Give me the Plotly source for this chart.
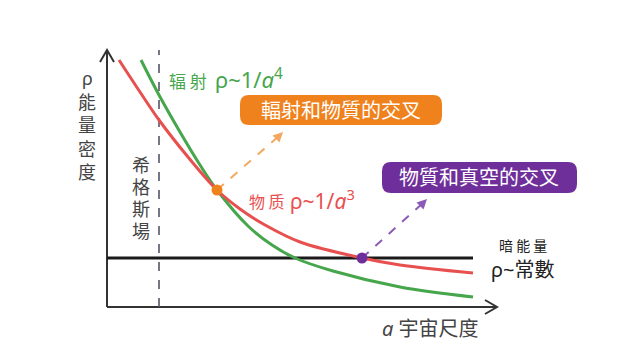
import plotly.graph_objects as go

# ---- data (chart units: scale factor a -> x, energy density rho -> y) ----
red_x = [12, 33, 52, 81, 110, 133, 158, 193, 255, 293, 366]
red_y = [247, 215, 187, 150, 117, 98, 82, 65, 49, 42, 34]
green_x = [34, 52, 73, 93, 110, 141, 165, 188, 226, 293, 366]
green_y = [247, 212, 175, 142, 117, 81, 62, 49, 36, 20, 10]
dark_x = [0, 366]
dark_y = [49, 49]
higgs_x = [52, 52]
higgs_y = [0, 257]
cross_rm = (110, 117)   # radiation / matter crossing
cross_mv = (255, 49)    # matter / vacuum crossing
y_label_chars = ["ρ", "能", "量", "密", "度"]
higgs_chars = ["希", "格", "斯", "場"]

RED = "#e8504f"
GREEN = "#45a64c"
ORANGE = "#f0821e"
PURPLE = "#6f2f9a"
AXIS = "#333333"
FONT = "Noto Sans, Noto Sans CJK TC, sans-serif"

fig = go.Figure()

# axes
fig.add_trace(go.Scatter(x=[0, 0], y=[0, 257], mode="lines", line=dict(color=AXIS, width=2), hoverinfo="skip"))
fig.add_trace(go.Scatter(x=[-7, 0, 7], y=[245, 257, 245], mode="lines", line=dict(color=AXIS, width=2), hoverinfo="skip"))
fig.add_trace(go.Scatter(x=[0, 390], y=[0, 0], mode="lines", line=dict(color=AXIS, width=2), hoverinfo="skip"))
fig.add_trace(go.Scatter(x=[378, 390, 378], y=[7, 0, -7], mode="lines", line=dict(color=AXIS, width=2), hoverinfo="skip"))

# Higgs field dashed line
fig.add_trace(go.Scatter(x=higgs_x, y=higgs_y, mode="lines",
                         line=dict(color="#555566", width=1.6, dash="dash"), hoverinfo="skip"))

# dark energy
fig.add_trace(go.Scatter(x=dark_x, y=dark_y, mode="lines", line=dict(color="#1a1a1a", width=3), hoverinfo="skip"))

# curves
fig.add_trace(go.Scatter(x=green_x, y=green_y, mode="lines", line=dict(color=GREEN, width=3, shape="spline", smoothing=1), hoverinfo="skip"))
fig.add_trace(go.Scatter(x=red_x, y=red_y, mode="lines", line=dict(color=RED, width=3, shape="spline", smoothing=1), hoverinfo="skip"))

# dashed pointer arrows
fig.add_trace(go.Scatter(x=[cross_rm[0], 172], y=[cross_rm[1], 171], mode="lines",
                         line=dict(color="#f2a860", width=2, dash="dash"), hoverinfo="skip"))
fig.add_trace(go.Scatter(x=[cross_mv[0], 316], y=[cross_mv[1], 104], mode="lines",
                         line=dict(color="#8b5bb5", width=2, dash="dash"), hoverinfo="skip"))

# crossing dots
fig.add_trace(go.Scatter(x=[cross_rm[0]], y=[cross_rm[1]], mode="markers", marker=dict(color=ORANGE, size=11), hoverinfo="skip"))
fig.add_trace(go.Scatter(x=[cross_mv[0]], y=[cross_mv[1]], mode="markers", marker=dict(color=PURPLE, size=11), hoverinfo="skip"))


def rounded(x0, y0, x1, y1, r):
    return (f"M {x0+r},{y0} L {x1-r},{y0} Q {x1},{y0} {x1},{y0+r} L {x1},{y1-r} "
            f"Q {x1},{y1} {x1-r},{y1} L {x0+r},{y1} Q {x0},{y1} {x0},{y1-r} "
            f"L {x0},{y0+r} Q {x0},{y0} {x0+r},{y0} Z")


fig.add_shape(type="path", path=rounded(133, 182, 335, 212, 9), fillcolor=ORANGE, line=dict(width=0), layer="above")
fig.add_shape(type="path", path=rounded(275, 114, 470, 145, 9), fillcolor=PURPLE, line=dict(width=0), layer="above")

ann = []


def txt(x, y, text, size, color, xanchor="center", family=FONT):
    ann.append(dict(x=x, y=y, text=text, showarrow=False, xanchor=xanchor, yanchor="middle",
                    borderpad=0, font=dict(size=size, color=color, family=family)))


# arrowheads of the dashed pointers
ann.append(dict(x=176, y=175, ax=168, ay=167, axref="x", ayref="y", xref="x", yref="y", text="",
                showarrow=True, arrowhead=2, arrowsize=1.1, arrowwidth=1.8, arrowcolor="#f2a860"))
ann.append(dict(x=320, y=108, ax=312, ay=100, axref="x", ayref="y", xref="x", yref="y", text="",
                showarrow=True, arrowhead=2, arrowsize=1.1, arrowwidth=1.8, arrowcolor="#8b5bb5"))

for i, ch in enumerate(y_label_chars):
    txt(-20, 229 - 23.5 * i, ch, 18, "#444444")
for i, ch in enumerate(higgs_chars):
    txt(34, 142 - 22 * i, ch, 18, "#444444")
txt(81, 227, "辐 射", 17, GREEN, family="Noto Sans CJK SC")
txt(107, 229, "ρ~1/<i>a</i><sup>4</sup>", 22, GREEN, xanchor="left")
txt(234, 197, "輻射和物質的交叉", 20, "white")
txt(372, 129.5, "物質和真空的交叉", 20, "white")
txt(160, 106, "物 质", 16, RED, family="Noto Sans CJK SC")
txt(182, 108, "ρ~1/<i>a</i><sup>3</sup>", 21, RED, xanchor="left")
txt(416, 62, "暗 能 量", 14, "#222222", family="Noto Sans CJK SC")
txt(415, 38, "ρ~常數", 20, "#222222")
txt(323, -21, "<i>a</i> 宇宙尺度", 20, "#444444")

# page body has an 8px margin: figure is 632x351 and placed at (8, 8)
fig.update_layout(
    width=632, height=351, autosize=False,
    margin=dict(l=0, r=0, t=0, b=0),
    paper_bgcolor="white", plot_bgcolor="white",
    showlegend=False,
    xaxis=dict(range=[-99, 533], visible=False, fixedrange=True),
    yaxis=dict(range=[-52, 299], visible=False, fixedrange=True),
    annotations=ann,
)

fig.write_html("out.html")
